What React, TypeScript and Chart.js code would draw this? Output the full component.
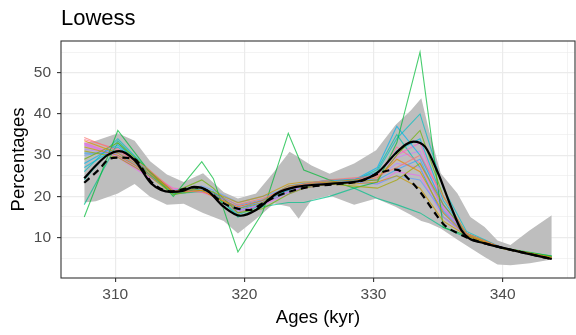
import { useEffect, useRef } from "react";
import { Chart, registerables } from "chart.js";
Chart.register(...registerables);

const titleText = "Lowess";
const xTitle = "Ages (kyr)";
const yTitle = "Percentages";

const xMajorTicks = [310, 320, 330, 340];
const xMinorTicks = [315, 325, 335, 345];
const yMajorTicks = [10, 20, 30, 40, 50];
const yMinorTicks = [5, 15, 25, 35, 45, 55];

// ensemble sample ages
const ensAges = [307.6, 310.2, 312.4, 314.5, 316.7, 317.6, 319.5, 321.4, 323.4, 324.6, 326.6, 328.5, 330.3, 331.8, 333.6, 335.4, 337.2, 340.0, 343.8];
const ens01 = [34.3, 31, 27, 21.5, 21, 20.5, 18, 19.5, 22, 23, 24, 24.5, 25, 27, 30, 20, 11, 7.5, 5];
const ens02 = [33.5, 30.5, 26.5, 21, 21.5, 20, 17.5, 19, 22.5, 23, 23.5, 24, 24.5, 29, 26, 16, 10.5, 7.3, 5];
const ens03 = [32, 30, 26, 21, 22, 21, 18.5, 20, 23, 23.5, 23.5, 23, 23.5, 25, 22, 14, 10.5, 7.5, 5.2];
const ens04 = [31, 29.5, 25.5, 20.5, 21.5, 20, 17, 18.5, 22, 22.5, 23, 22.5, 22, 24, 28, 18, 11, 7.5, 5];
const ens05 = [29, 33, 27, 21, 24, 22, 16, 17, 20.5, 22, 23, 23.5, 24, 30, 36, 20, 11, 7.4, 5.3];
const ens06 = [15, 36, 27, 20, 28.4, 24.3, 6.5, 16, 35.3, 26.4, 24, 22, 23.5, 33, 55, 12.5, 10.5, 7.5, 5.5];
const ens07 = [18, 33, 26, 20.5, 22, 21, 15, 17.5, 18.5, 18.5, 20, 22, 19.5, 18, 16, 12.5, 10, 7.3, 5.5];
const ens08 = [26, 34, 27, 20.5, 21.5, 20.5, 15.5, 18, 22, 23, 24, 24, 26, 34, 40, 22, 11.5, 7.5, 5];
const ens09 = [28, 32.5, 26.5, 21, 22, 21, 17, 19, 21.5, 23, 23.5, 24, 27, 37, 30, 18, 11, 7.4, 5];
const ens10 = [30, 31, 26, 21.5, 22.5, 21.5, 18.5, 20, 22, 23, 24, 23.5, 23, 25, 24, 16, 10.5, 7.5, 5.1];
const ens11 = [31.5, 30, 25.5, 21, 21.5, 20.5, 17, 18.5, 21, 22.5, 23.5, 24, 24.5, 28, 27, 17, 11, 7.6, 5];
const ens12 = [32.5, 29.5, 25, 21.5, 21.5, 20.5, 16.5, 18, 20.5, 22, 23, 23.5, 23, 26, 25, 15, 10.5, 7.4, 5];
const ens13 = [33, 30, 26, 22, 21, 20, 17.5, 19, 21, 22, 23, 23.5, 24, 30, 33, 18, 11, 7.5, 5];
const ens14 = [33.8, 31.5, 26.5, 21.5, 21.5, 20, 16, 18, 21.5, 22.5, 23.5, 24, 25, 32, 28, 17, 10.8, 7.5, 5];
const ens15 = [27, 32, 26, 20.8, 21.8, 21, 16.5, 18.5, 21.5, 22.5, 23.5, 24, 25.5, 31, 34, 19, 11, 7.4, 5.1];
const ens16 = [30.5, 30.5, 25.8, 21.2, 22, 21, 17.8, 19.2, 22.5, 23.2, 23.8, 24.2, 24, 26.5, 29, 16.5, 10.8, 7.5, 5];
const ens17 = [24, 33.5, 26.8, 20.6, 21.2, 20.2, 16, 18.2, 21, 22.2, 23.2, 23.8, 26.5, 35, 27, 15, 10.6, 7.4, 5.2];
const ens18 = [32.8, 29.8, 25.3, 21.3, 21.8, 20.8, 17.2, 18.8, 21.8, 22.8, 23.8, 24.3, 25.8, 29.5, 31, 17.5, 11, 7.5, 5];
const ensColors = ["#F8766D", "#E58700", "#C99800", "#A3A500", "#6BB100", "#00BA38", "#00C08B", "#00BFC4", "#00B4F0", "#619CFF", "#B983FF", "#E76BF3", "#FD61D1", "#FF6C91", "#00BCD8", "#35A2FF", "#00C1A9", "#D078FF"];

// gray envelope
const bandAges = [307.6, 308.5, 310.2, 311.5, 312.7, 314.0, 315.3, 316.8, 318.4, 319.5, 320.9, 322.3, 323.5, 324.2, 325.2, 326.6, 328.5, 330.2, 331.7, 332.9, 333.7, 334.3, 335.2, 336.5, 337.5, 338.6, 339.6, 340.6, 342.1, 343.8];
const bandUpper = [33, 33.5, 35.3, 33.5, 28.5, 25.3, 23.5, 25.6, 21, 19.5, 20.7, 26, 30.8, 29.5, 27.5, 25.5, 28, 31.2, 37.3, 40.9, 43.8, 36, 25.6, 20.7, 15.0, 12.6, 9.3, 8.2, 11.8, 15.4];
const bandLower = [18.5, 18.8, 20.7, 23.0, 19.9, 18.0, 18.2, 16.0, 14.0, 11.0, 14.5, 18.3, 17.5, 14.6, 19.1, 20.2, 18.0, 19.5, 17.5, 15.5, 14.0, 13.5, 12.2, 9.5, 7.5, 5.3, 3.5, 3.3, 3.8, 4.7];

// lowess curves
const solidAges = [307.6, 308.5, 309.4, 310.3, 311.5, 312.8, 314.3, 315.3, 316.1, 317.1, 318.4, 319.7, 320.9, 322.5, 324.0, 326.8, 329.1, 330.4, 331.7, 332.5, 333.1, 334.0, 335.0, 336.0, 336.8, 337.4, 338.5, 339.6, 342.1, 343.8];
const solidVals = [24.4, 27.5, 30, 31.0, 28.8, 23.1, 21.1, 21.4, 22.3, 21.5, 17.5, 15.3, 16.7, 20.7, 22.3, 23.1, 23.9, 26.0, 30.4, 32.6, 33.3, 32.0, 25.6, 17.5, 11.8, 9.8, 8.7, 7.8, 6.0, 4.8];
const dashAges = [307.6, 308.7, 309.6, 310.2, 311.4, 312.8, 314.3, 316.1, 317.1, 318.4, 319.4, 320.4, 321.4, 322.7, 325.0, 327.0, 329.1, 330.4, 331.7, 332.0, 332.7, 333.7, 334.7, 335.5, 336.5, 337.4, 339.6, 342.1, 343.8];
const dashVals = [23.3, 26.4, 29.2, 29.4, 29.2, 23.5, 21.2, 22.2, 21.4, 18.3, 17.1, 16.7, 18.3, 20.3, 22.3, 22.9, 23.8, 25.6, 26.5, 26.3, 24.3, 20.7, 16.2, 13.0, 11.1, 9.8, 7.8, 6.0, 4.8];

const X_MIN = 305.8, X_MAX = 345.6, Y_MIN = 0.2, Y_MAX = 57.7;

const FONT = '"Liberation Sans", Arial, sans-serif';

const pts = (xs: number[], ys: number[]) => xs.map((x, i) => ({ x, y: ys[i] }));

export default function App() {
  const ref = useRef<HTMLCanvasElement | null>(null);
  useEffect(() => {
    if (!ref.current) return;
    const ensembles = [ens01, ens02, ens03, ens04, ens05, ens06, ens07, ens08, ens09, ens10, ens11, ens12, ens13, ens14, ens15, ens16, ens17, ens18];
    const ensDatasets = ensembles.map((v, i) => ({
      type: "line" as const,
      data: pts(ensAges, v),
      borderColor: ensColors[i] + "B8",
      borderWidth: 1.1,
      pointRadius: 0,
      fill: false,
      tension: 0,
    }));
    const framePlugin = {
      id: "frame",
      afterDatasetsDraw(chart: any) {
        const { ctx, chartArea } = chart;
        ctx.save();
        ctx.strokeStyle = "#333333";
        ctx.lineWidth = 1.1;
        ctx.strokeRect(chartArea.left, chartArea.top, chartArea.right - chartArea.left, chartArea.bottom - chartArea.top);
        ctx.restore();
      },
      afterDraw(chart: any) {
        const { ctx, chartArea } = chart;
        ctx.save();
        ctx.font = `22px ${FONT}`;
        ctx.fillStyle = "#000000";
        ctx.textAlign = "left";
        ctx.textBaseline = "alphabetic";
        ctx.fillText(titleText, chartArea.left, 25);
        ctx.restore();
      },
    };
    const isMajor = (list: number[], v: number) => list.some((m) => Math.abs(m - v) < 1e-6);
    const chart = new Chart(ref.current, {
      type: "line",
      data: {
        datasets: [
          { data: pts(solidAges, solidVals), borderColor: "#000000", borderWidth: 2.2, pointRadius: 0, cubicInterpolationMode: "monotone", fill: false },
          { data: pts(dashAges, dashVals), borderColor: "#000000", borderWidth: 2.2, borderDash: [7, 5], pointRadius: 0, cubicInterpolationMode: "monotone", fill: false },
          ...ensDatasets,
          { data: pts(bandAges, bandUpper), borderWidth: 0, borderColor: "rgba(0,0,0,0)", backgroundColor: "rgb(190,190,190)", pointRadius: 0, fill: "+1", tension: 0 },
          { data: pts(bandAges, bandLower), borderWidth: 0, borderColor: "rgba(0,0,0,0)", pointRadius: 0, fill: false, tension: 0 },
        ] as any,
      },
      options: {
        animation: false,
        responsive: false,
        events: [],
        layout: { padding: { top: 41, right: 1, bottom: 0, left: 0 } },
        plugins: { legend: { display: false }, tooltip: { enabled: false }, title: { display: false } },
        scales: {
          x: {
            type: "linear",
            min: X_MIN,
            max: X_MAX,
            afterBuildTicks: (s: any) => {
              s.ticks = [...xMajorTicks, ...xMinorTicks].sort((a, b) => a - b).map((v) => ({ value: v }));
            },
            afterFit: (s: any) => {
              s.height = 57;
              s.paddingLeft = 0;
              s.paddingRight = 0;
            },
            border: { display: false },
            grid: {
              color: "#EBEBEB",
              lineWidth: (c: any) => (isMajor(xMajorTicks, c.tick?.value) ? 1.2 : 0.6),
              tickLength: 4,
              tickColor: (c: any) => (isMajor(xMajorTicks, c.tick?.value) ? "#333333" : "rgba(0,0,0,0)"),
              tickWidth: 1.1,
            },
            ticks: {
              autoSkip: false,
              maxRotation: 0,
              padding: 3,
              color: "#4D4D4D",
              font: { family: FONT, size: 15.5 },
              callback: (v: any) => (isMajor(xMajorTicks, Number(v)) ? String(v) : ""),
            },
            title: { display: true, text: xTitle, color: "#000000", font: { family: FONT, size: 18.5 }, padding: { top: 0, bottom: 6 } },
          },
          y: {
            type: "linear",
            min: Y_MIN,
            max: Y_MAX,
            afterBuildTicks: (s: any) => {
              s.ticks = [...yMajorTicks, ...yMinorTicks].sort((a, b) => a - b).map((v) => ({ value: v }));
            },
            afterFit: (s: any) => {
              s.width = 61;
              s.paddingTop = 0;
              s.paddingBottom = 0;
            },
            border: { display: false },
            grid: {
              color: "#EBEBEB",
              lineWidth: (c: any) => (isMajor(yMajorTicks, c.tick?.value) ? 1.2 : 0.6),
              tickLength: 4,
              tickColor: (c: any) => (isMajor(yMajorTicks, c.tick?.value) ? "#333333" : "rgba(0,0,0,0)"),
              tickWidth: 1.1,
            },
            ticks: {
              autoSkip: false,
              padding: 6,
              color: "#4D4D4D",
              font: { family: FONT, size: 15.5 },
              callback: (v: any) => (isMajor(yMajorTicks, Number(v)) ? String(v) : ""),
            },
            title: { display: true, text: yTitle, color: "#000000", font: { family: FONT, size: 18.5 }, padding: { top: 8, bottom: 0 } },
          },
        },
      } as any,
      plugins: [framePlugin],
    });
    return () => chart.destroy();
  }, []);
  return (
    <div style={{ position: "absolute", left: 0, top: 0, width: 576, height: 335, background: "#ffffff" }}>
      <canvas ref={ref} width={576} height={335} />
    </div>
  );
}
